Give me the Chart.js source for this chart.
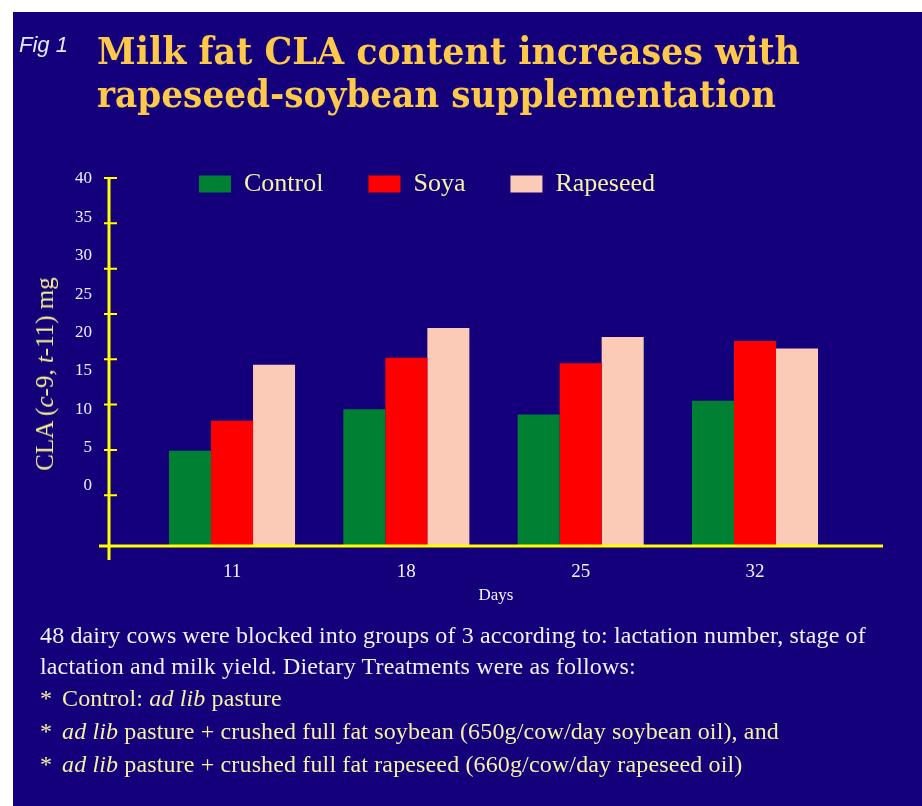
<!DOCTYPE html>
<html>
<head>
<meta charset="utf-8">
<script src="https://cdn.jsdelivr.net/npm/chart.js@4.4.1/dist/chart.umd.min.js"></script>
<style>
  html, body { margin: 0; padding: 0; background: #ffffff; width: 922px; height: 806px; overflow: hidden; }
  #panel { position: absolute; left: 13px; top: 12px; width: 909px; height: 794px; background: #14007a; }
  #wrap { position: absolute; left: 0; top: 0; width: 922px; height: 806px; }
  .txt { position: absolute; white-space: nowrap; }
  #fig { left: 19px; top: 34px; font: italic 22px/22px "Liberation Sans", Arial, sans-serif; color: #e6e8ff; }
  .title { left: 97px; font: bold 38px/43px "DejaVu Serif", serif; color: #fcc94a; transform-origin: 0 0; }
  #ytitle { left: 45px; top: 374px; transform: translate(-50%, -50%) rotate(-90deg); font: 25px/28px "Liberation Serif", serif; color: #f3f08c; }
  .note { left: 40px; font: 24px/26px "Liberation Serif", serif; letter-spacing: 0.14px; }
  .w { color: #f2f2f6; }
  .y { color: #f6f2a2; }
  .b { display: inline-block; width: 22px; }
</style>
</head>
<body>
<div id="panel"></div>
<div id="wrap"><canvas id="c"></canvas></div>
<div class="txt" id="fig">Fig 1</div>
<div class="txt title" id="t1" style="top:29px" data-w="703">Milk fat CLA content increases with</div>
<div class="txt title" id="t2" style="top:72px" data-w="679">rapeseed-soybean supplementation</div>
<div class="txt" id="ytitle">CLA (<i>c</i>-9, <i>t</i>-11) mg</div>
<div class="txt note w" style="top:622px">48 dairy cows were blocked into groups of 3 according to: lactation number, stage of</div>
<div class="txt note w" style="top:653px">lactation and milk yield. Dietary Treatments were as follows:</div>
<div class="txt note y" style="top:685px"><span class="b">*</span>Control: <i>ad lib</i> pasture</div>
<div class="txt note y" style="top:718px"><span class="b">*</span><i>ad lib</i> pasture + crushed full fat soybean (650g/cow/day soybean oil), and</div>
<div class="txt note y" style="top:751px"><span class="b">*</span><i>ad lib</i> pasture + crushed full fat rapeseed (660g/cow/day rapeseed oil)</div>
<script>
// ---- data ----
const days = [11, 18, 25, 32];
const seriesNames = ['Control', 'Soya', 'Rapeseed'];
const control  = [4.6, 10.0, 9.3, 11.1];
const soya     = [8.5, 16.7, 16.0, 18.9];
const rapeseed = [15.8, 20.6, 19.4, 17.9];
const yTickLabels = [0, 5, 10, 15, 20, 25, 30, 35, 40];
const yTickMarks  = [5, 10, 15, 20, 25, 30, 35, 40];
const xTitle = 'Days';

// ---- styling / layout ----
const colors = ['#008033', '#ff0000', '#fccbb8'];
const AXIS_COLOR = '#ffff00';
const Y_MIN = -7.82, Y_MAX = 47.17;       // label scale
const YT_MIN = -0.6, YT_MAX = 45.96;      // tick-mark scale
const X_MIN = 6.06, X_MAX = 37.14;

// fit title line widths
document.querySelectorAll('.title').forEach(el => {
  const w = el.getBoundingClientRect().width;
  el.style.transform = 'scaleX(' + (Number(el.dataset.w) / w) + ')';
});

const series = [control, soya, rapeseed];
const datasets = series.map((vals, i) => ({
  label: seriesNames[i],
  data: days.map((d, j) => ({ x: d, y: vals[j] })),
  backgroundColor: colors[i],
  borderWidth: 0,
  base: Y_MIN,
  barPercentage: 1.0,
  categoryPercentage: 0.723
}));

const axisPlugin = {
  id: 'axisLines',
  afterDatasetsDraw(chart) {
    const { ctx, chartArea: a, scales } = chart;
    const tk = scales.yTicks;
    ctx.save();
    ctx.strokeStyle = AXIS_COLOR;
    ctx.lineWidth = 3;
    ctx.beginPath();
    ctx.moveTo(a.left - 10, a.bottom);
    ctx.lineTo(a.right, a.bottom);
    ctx.moveTo(a.left, tk.getPixelForValue(Math.max(...yTickMarks)));
    ctx.lineTo(a.left, a.bottom + 14);
    ctx.stroke();
    ctx.lineWidth = 2;
    ctx.beginPath();
    yTickMarks.forEach(v => {
      const y = tk.getPixelForValue(v);
      ctx.moveTo(a.left - 5, y);
      ctx.lineTo(a.left + 8, y);
    });
    ctx.stroke();
    ctx.restore();
  }
};

// legend overlaps top of plot area: keep it out of the layout flow, then widen its drawing box
const legendShift = {
  id: 'legendShift',
  afterLayout(chart) {
    const l = chart.legend;
    if (l) {
      l.left += 45; l.right += 45;
      l.top += 3;
      l.bottom = l.top + 100; l.height = 100;
    }
  }
};

new Chart(document.getElementById('c'), {
  type: 'bar',
  data: { datasets },
  options: {
    responsive: true,
    maintainAspectRatio: false,
    animation: false,
    devicePixelRatio: 1,
    layout: { padding: { left: 69, right: 39, top: 123, bottom: 200 } },
    plugins: {
      tooltip: { enabled: false },
      legend: {
        position: 'top',
        align: 'start',
        fullSize: false,
        maxHeight: 1,
        labels: {
          font: { family: 'Liberation Serif', size: 26 },
          color: '#f6f2a2',
          boxWidth: 32,
          boxHeight: 17,
          padding: 45
        }
      }
    },
    scales: {
      x: {
        type: 'linear',
        min: X_MIN, max: X_MAX,
        offset: false,
        grid: { display: false, drawTicks: false, tickLength: 0, offset: false },
        border: { display: false },
        afterBuildTicks: s => { s.ticks = days.map(v => ({ value: v })); },
        afterFit: s => { s.height = 60; },
        ticks: {
          padding: 15,
          color: '#f4f4ff',
          font: { family: 'Liberation Serif', size: 19 },
          callback: v => String(v)
        },
        title: {
          display: true, text: xTitle, color: '#f4f4ff',
          font: { family: 'Liberation Serif', size: 17 },
          padding: { top: 0, bottom: 0 }
        }
      },
      y: {
        position: 'left',
        min: Y_MIN, max: Y_MAX,
        grid: { display: false, drawTicks: false, tickLength: 0 },
        border: { display: false },
        afterBuildTicks: s => { s.ticks = yTickLabels.map(v => ({ value: v })); },
        afterFit: s => { s.width = 40; },
        ticks: {
          padding: 17,
          color: '#eeeeff',
          font: { family: 'Liberation Serif', size: 17 },
          callback: v => String(v)
        }
      },
      yTicks: {
        type: 'linear',
        position: 'left',
        display: false,
        min: YT_MIN, max: YT_MAX
      }
    }
  },
  plugins: [axisPlugin, legendShift]
});
</script>
</body>
</html>
